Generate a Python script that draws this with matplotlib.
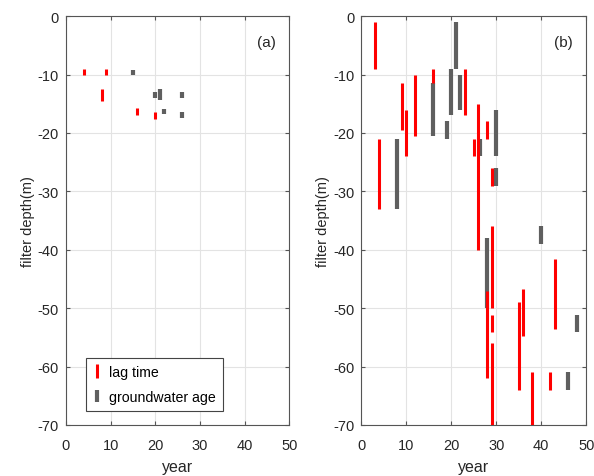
import matplotlib.pyplot as plt
from matplotlib.lines import Line2D

plt.rcParams['font.family'] = ['Liberation Sans', 'DejaVu Sans']
plt.rcParams['axes.unicode_minus'] = False

# panel (a)
a_lag_year = [4, 9, 8, 16, 20]
a_lag_top = [-9.0, -9.0, -12.5, -15.8, -16.4]
a_lag_bot = [-10.0, -10.0, -14.5, -16.9, -17.6]
a_age_year = [15, 20, 21, 22, 26, 26]
a_age_top = [-9.2, -13.0, -12.5, -15.9, -13.0, -16.4]
a_age_bot = [-10.0, -14.0, -14.4, -16.8, -14.0, -17.5]

# panel (b)
b_lag_year = [3, 4, 9, 10, 12, 16, 23, 25, 26, 28, 29, 29, 29, 29, 28, 35, 36, 38, 42, 43]
b_lag_top = [-1, -21, -11.5, -16, -10, -9, -9, -21, -15, -18, -26, -36, -51.2, -56, -47, -49, -46.8, -61, -61, -41.5]
b_lag_bot = [-9, -33, -19.5, -24, -20.5, -11.5, -17, -24, -40, -21, -29, -50, -54, -70, -62, -64, -54.8, -70, -64, -53.5]
b_age_year = [8, 16, 19, 20, 21, 22, 26.4, 30, 30, 28, 40, 46, 48]
b_age_top = [-21, -11.5, -18, -9, -1, -10, -21, -16, -26, -38, -36, -61, -51.2]
b_age_bot = [-33, -20.5, -21, -17, -9, -16, -24, -24, -29, -50, -39, -64, -54]

red = '#ff0000'
grey = '#5f5f5f'
txt = '#262626'

fig = plt.figure(figsize=(5.94, 4.77), dpi=100)
ax1 = fig.add_axes([0.111, 0.107, 0.376, 0.857])
ax2 = fig.add_axes([0.608, 0.107, 0.379, 0.857])

panels = [
    (ax1, a_lag_year, a_lag_top, a_lag_bot, a_age_year, a_age_top, a_age_bot, '(a)'),
    (ax2, b_lag_year, b_lag_top, b_lag_bot, b_age_year, b_age_top, b_age_bot, '(b)'),
]

for ax, ly, lt, lb, gy, gt, gb, tag in panels:
    ax.vlines(gy, gb, gt, colors=grey, linewidth=3.0, zorder=3)
    ax.vlines(ly, lb, lt, colors=red, linewidth=2.2, zorder=4)
    ax.set_xlim(0, 50)
    ax.set_ylim(-70, 0)
    ax.set_xticks(range(0, 51, 10))
    ax.set_yticks(range(-70, 1, 10))
    ax.grid(True, color='#e3e3e3', linewidth=0.8)
    ax.set_axisbelow(True)
    ax.tick_params(direction='in', top=True, right=True, length=3,
                   color='#555555', labelsize=10.5, labelcolor=txt)
    ax.tick_params(axis='x', pad=9.5)
    ax.tick_params(axis='y', pad=5)
    for s in ax.spines.values():
        s.set_color('#555555')
        s.set_linewidth(0.8)
    ax.set_xlabel('year', fontsize=11.5, color=txt, labelpad=5)
    ax.set_ylabel('filter depth(m)', fontsize=10.5, color=txt, labelpad=2)
    ax.text(0.94, 0.955, tag, transform=ax.transAxes, ha='right', va='top',
            fontsize=11, color=txt)

handles = [
    Line2D([], [], color=red, marker='|', linestyle='None', markersize=10, markeredgewidth=2.2),
    Line2D([], [], color=grey, marker='|', linestyle='None', markersize=8, markeredgewidth=3.0),
]
leg = ax1.legend(handles, ['lag time', 'groundwater age'], loc='lower left',
                 bbox_to_anchor=(0.09, 0.034), borderaxespad=0, fontsize=10.2,
                 handlelength=0.5, handletextpad=0.6, borderpad=0.5,
                 labelspacing=0.75, fancybox=False, framealpha=1)
leg.get_frame().set_edgecolor('#444444')
leg.get_frame().set_linewidth(0.8)

fig.savefig('out.png', dpi=100)
